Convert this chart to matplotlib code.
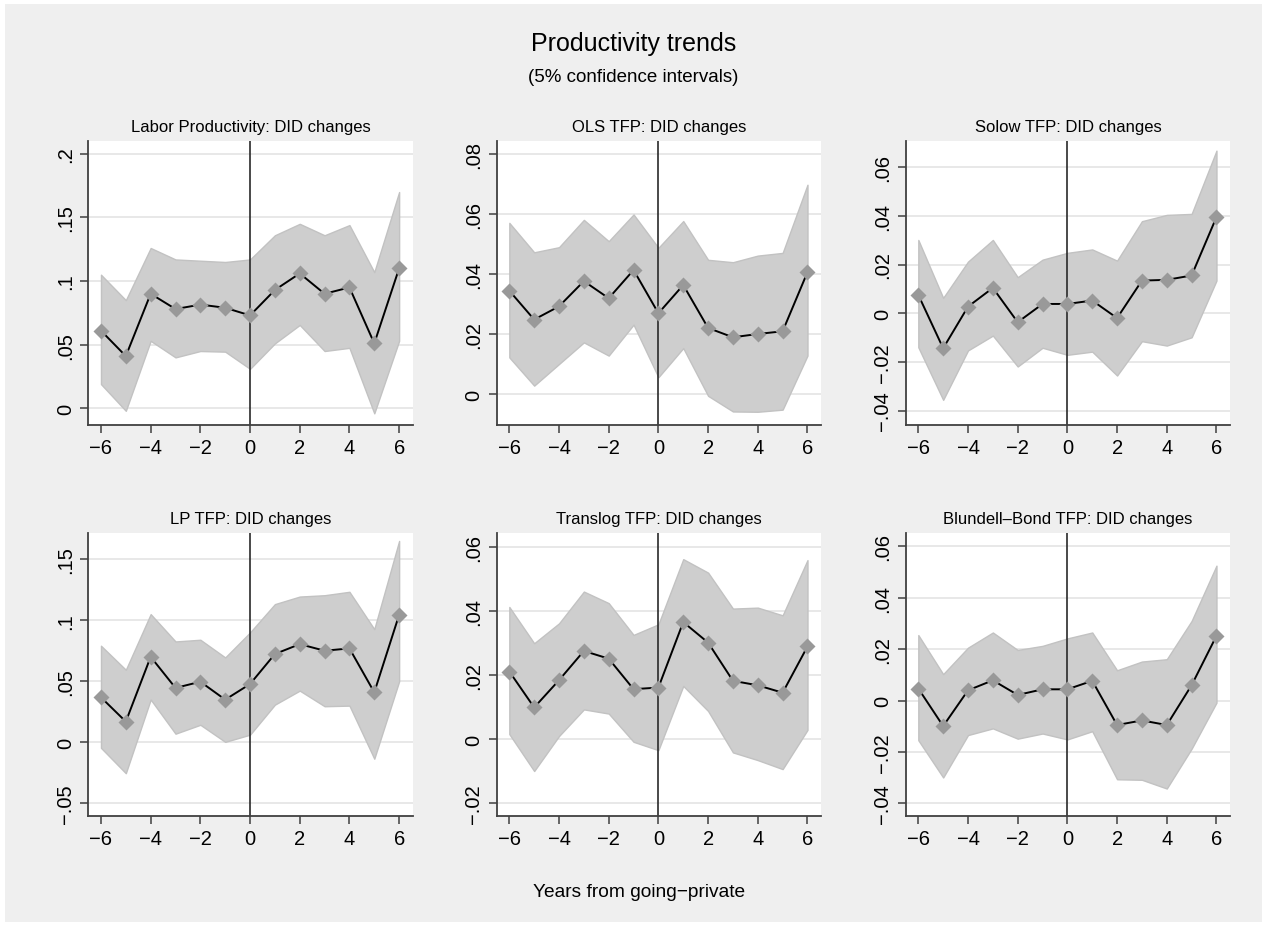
import matplotlib
matplotlib.use('Agg')
import matplotlib.pyplot as plt
from matplotlib.patches import Rectangle

plt.rcParams['font.family'] = ['Liberation Sans', 'DejaVu Sans']

years = [-6, -5, -4, -3, -2, -1, 0, 1, 2, 3, 4, 5, 6]

titles = ['Labor Productivity: DID changes', 'OLS TFP: DID changes', 'Solow TFP: DID changes',
          'LP TFP: DID changes', 'Translog TFP: DID changes', 'Blundell\u2013Bond TFP: DID changes']

# point estimates
labor_est = [0.061, 0.041, 0.090, 0.078, 0.0815, 0.079, 0.073, 0.093, 0.106, 0.090, 0.095, 0.051, 0.110]
ols_est = [0.0344, 0.0248, 0.0292, 0.0376, 0.0319, 0.0413, 0.0269, 0.0363, 0.022, 0.0189, 0.020, 0.0209, 0.0406]
solow_est = [0.0075, -0.0144, 0.0027, 0.0104, -0.0037, 0.0038, 0.0038, 0.0052, -0.002, 0.0134, 0.0137, 0.0155, 0.0395]
lp_est = [0.0368, 0.0169, 0.070, 0.0445, 0.0496, 0.0349, 0.0477, 0.0723, 0.0804, 0.075, 0.0769, 0.0409, 0.1044]
translog_est = [0.0211, 0.0099, 0.0184, 0.0275, 0.0251, 0.0156, 0.0161, 0.0365, 0.0301, 0.0182, 0.0168, 0.0145, 0.0289]
bb_est = [0.0047, -0.0099, 0.004, 0.0079, 0.0022, 0.0044, 0.0044, 0.0077, -0.0095, -0.0077, -0.0095, 0.006, 0.0252]

# upper bounds
labor_hi = [0.105, 0.085, 0.126, 0.117, 0.116, 0.115, 0.117, 0.136, 0.145, 0.136, 0.144, 0.107, 0.170]
ols_hi = [0.057, 0.0472, 0.0489, 0.058, 0.0509, 0.0598, 0.0487, 0.0576, 0.0447, 0.0439, 0.0461, 0.047, 0.0697]
solow_hi = [0.0301, 0.0063, 0.0212, 0.0301, 0.0148, 0.022, 0.0248, 0.0262, 0.0216, 0.0378, 0.0404, 0.0408, 0.0668]
lp_hi = [0.0791, 0.0594, 0.105, 0.0826, 0.084, 0.0695, 0.090, 0.1132, 0.1194, 0.1205, 0.1233, 0.0927, 0.165]
translog_hi = [0.0412, 0.0299, 0.0361, 0.046, 0.0424, 0.0325, 0.0358, 0.0561, 0.0519, 0.0407, 0.041, 0.0386, 0.0558]
bb_hi = [0.0255, 0.0103, 0.0206, 0.0265, 0.0197, 0.0213, 0.0242, 0.0265, 0.0118, 0.0152, 0.0161, 0.031, 0.0525]

# lower bounds
labor_lo = [0.019, -0.002, 0.053, 0.040, 0.045, 0.0445, 0.031, 0.051, 0.0655, 0.045, 0.0475, -0.004, 0.053]
ols_lo = [0.0122, 0.0028, 0.010, 0.0172, 0.0128, 0.0231, 0.0056, 0.0153, -0.0006, -0.0058, -0.0059, -0.0052, 0.0128]
solow_lo = [-0.014, -0.0356, -0.0153, -0.0092, -0.0219, -0.0142, -0.0171, -0.0158, -0.0256, -0.0115, -0.0133, -0.0099, 0.0134]
lp_lo = [-0.0046, -0.0254, 0.035, 0.007, 0.0143, 0.0003, 0.0062, 0.0308, 0.0423, 0.0295, 0.030, -0.0135, 0.0499]
translog_lo = [0.0016, -0.0099, 0.001, 0.0093, 0.008, -0.0008, -0.0034, 0.0166, 0.0088, -0.0041, -0.0065, -0.0093, 0.0029]
bb_lo = [-0.0154, -0.0299, -0.0134, -0.0108, -0.0148, -0.0128, -0.0151, -0.0119, -0.0306, -0.0308, -0.0342, -0.0187, -0.0008]

# y ticks per panel
yticks = [[0, 0.05, 0.1, 0.15, 0.2], [0, 0.02, 0.04, 0.06, 0.08], [-0.04, -0.02, 0, 0.02, 0.04, 0.06],
          [-0.05, 0, 0.05, 0.1, 0.15], [-0.02, 0, 0.02, 0.04, 0.06], [-0.04, -0.02, 0, 0.02, 0.04, 0.06]]
ylabels = [['0', '.05', '.1', '.15', '.2'], ['0', '.02', '.04', '.06', '.08'],
           ['\u2212.04', '\u2212.02', '0', '.02', '.04', '.06'],
           ['\u2212.05', '0', '.05', '.1', '.15'], ['\u2212.02', '0', '.02', '.04', '.06'],
           ['\u2212.04', '\u2212.02', '0', '.02', '.04', '.06']]
ylims = [(-0.0129, 0.2102), (-0.0102, 0.0843), (-0.0458, 0.0708),
         (-0.0607, 0.1719), (-0.024, 0.0644), (-0.045, 0.0654)]

ests = [labor_est, ols_est, solow_est, lp_est, translog_est, bb_est]
his = [labor_hi, ols_hi, solow_hi, lp_hi, translog_hi, bb_hi]
los = [labor_lo, ols_lo, solow_lo, lp_lo, translog_lo, bb_lo]

fig = plt.figure(figsize=(12.67, 9.28), dpi=100)
fig.patch.set_facecolor('white')
fig.patches.append(Rectangle((5 / 1267, 5 / 928), 1 - 10 / 1267, 1 - 10 / 928,
                             transform=fig.transFigure, facecolor='#efefef', edgecolor='none', zorder=-10))

lefts = [0.0697, 0.3920, 0.7148]
bottoms = [0.5413, 0.1193]
w, h = 0.2563, 0.3058

for i in range(6):
    ax = fig.add_axes([lefts[i % 3], bottoms[i // 3], w, h])
    ax.set_facecolor('white')
    for yv in yticks[i]:
        ax.axhline(yv, color='#e6e6e6', lw=1.3, zorder=0)
    ax.fill_between(years, los[i], his[i], facecolor='#cecece', edgecolor='#c2c2c2', lw=1, zorder=1)
    ax.axvline(0, color='#2a2a2a', lw=1.2, zorder=2)
    ax.plot(years, ests[i], color='black', lw=1.4, zorder=3)
    ax.plot(years, ests[i], ls='none', marker='D', ms=8, color='#999999', mec='none', zorder=4)
    ax.set_xlim(-6.51, 6.56)
    ax.set_ylim(*ylims[i])
    ax.set_xticks([-6, -4, -2, 0, 2, 4, 6])
    ax.set_yticks(yticks[i])
    ax.set_yticklabels(ylabels[i])
    for s in ['top', 'right']:
        ax.spines[s].set_visible(False)
    for s in ['left', 'bottom']:
        ax.spines[s].set_color('#404040')
        ax.spines[s].set_linewidth(1.3)
    ax.tick_params(axis='both', labelsize=14.5, length=5.5, width=1.1, color='#404040', pad=4)
    ax.tick_params(axis='y', labelrotation=90)
    for lab in ax.get_yticklabels():
        lab.set_va('center')
    ax.set_title(titles[i], fontsize=12, pad=7)

fig.text(0.5, 1 - 44 / 928, 'Productivity trends', ha='center', va='center', fontsize=18)
fig.text(0.5, 1 - 78 / 928, '(5% confidence intervals)', ha='center', va='center', fontsize=13.5)
fig.text(639 / 1267, 1 - 893 / 928, 'Years from going\u2212private', ha='center', va='center', fontsize=13.8)

fig.savefig('out.png', dpi=100, facecolor=fig.get_facecolor())
